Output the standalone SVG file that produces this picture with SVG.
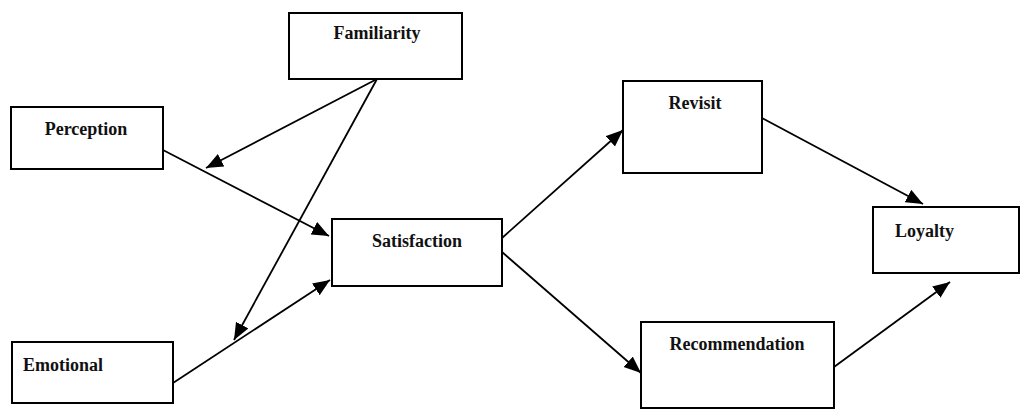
<svg xmlns="http://www.w3.org/2000/svg" width="1021" height="411" viewBox="0 0 1021 411">
<defs>
<style>
.box{fill:#fff;stroke:#000;stroke-width:2}
.lbl{font-family:"Liberation Serif","Times New Roman",serif;font-weight:bold;font-size:18px;fill:#111}
.c{text-anchor:middle}
.edge{stroke:#000;stroke-width:1.8;fill:none;marker-end:url(#ah)}
</style>
<marker id="ah" markerUnits="userSpaceOnUse" markerWidth="19" markerHeight="15" refX="17" refY="7" orient="auto">
<path d="M0,0 L17,7 L0,14 z" fill="#000"/>
</marker>
</defs>
<rect width="1021" height="411" fill="#fff"/>
<g id="connectors">
<line class="edge" x1="377" y1="79" x2="206" y2="168"/>
<line class="edge" x1="377" y1="79" x2="234" y2="340"/>
<line class="edge" x1="163" y1="150" x2="329" y2="236"/>
<line class="edge" x1="173" y1="383" x2="330" y2="280"/>
<line class="edge" x1="502" y1="238" x2="623" y2="130"/>
<line class="edge" x1="502" y1="252" x2="641" y2="373"/>
<line class="edge" x1="762" y1="118" x2="923" y2="204"/>
<line class="edge" x1="834" y1="367" x2="950" y2="282"/>
</g>
<g id="familiarity"><rect class="box" x="289" y="13" width="173" height="66"/><text class="lbl c" x="377" y="39">Familiarity</text></g>
<g id="perception"><rect class="box" x="11" y="107" width="152" height="62"/><text class="lbl c" x="86" y="135">Perception</text></g>
<g id="emotional"><rect class="box" x="12" y="342" width="161" height="61"/><text class="lbl" x="23" y="371">Emotional</text></g>
<g id="satisfaction"><rect class="box" x="332" y="219" width="170" height="67"/><text class="lbl c" x="417" y="247">Satisfaction</text></g>
<g id="revisit"><rect class="box" x="623" y="81" width="139" height="92"/><text class="lbl c" x="695" y="109">Revisit</text></g>
<g id="recommendation"><rect class="box" x="641" y="322" width="193" height="86"/><text class="lbl c" x="737" y="350">Recommendation</text></g>
<g id="loyalty"><rect class="box" x="873" y="207" width="146" height="66"/><text class="lbl" x="895" y="237">Loyalty</text></g>
</svg>
